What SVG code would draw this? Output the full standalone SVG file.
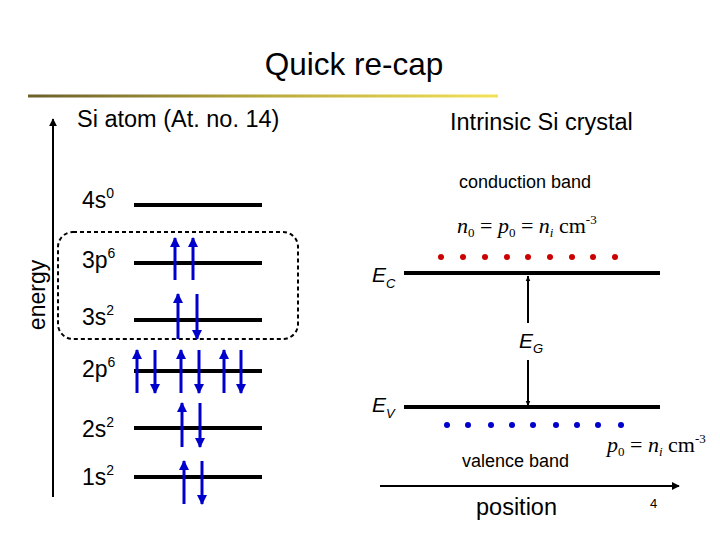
<svg xmlns="http://www.w3.org/2000/svg" width="720" height="540" viewBox="0 0 720 540">
<style>
.sans{font-family:"Liberation Sans",Arial,sans-serif;fill:#000}
.serif{font-family:"Liberation Serif","Times New Roman",serif;fill:#000}
.lvl{stroke:#000;stroke-width:4;fill:none}
.up{stroke:#0000cc;stroke-width:3;marker-end:url(#bh)}
.ax{stroke:#000;stroke-width:2;fill:none}
.thin{stroke:#000;stroke-width:2;fill:none}
.rd{fill:#cc0000}
.bd{fill:#0000cc}
</style>
<defs>
<linearGradient id="gl" x1="0" y1="0" x2="1" y2="0">
<stop offset="0" stop-color="#6b5f2c"/>
<stop offset="0.5" stop-color="#b8a83a"/>
<stop offset="1" stop-color="#f3e259"/>
</linearGradient>
<marker id="bh" viewBox="0 0 10 10" refX="9" refY="5" markerWidth="3.5" markerHeight="3.5" orient="auto" markerUnits="strokeWidth">
<path d="M0,0 L10,5 L0,10 z" fill="#0000cc"/>
</marker>
<marker id="kh" viewBox="0 0 10 10" refX="9" refY="5" markerWidth="4" markerHeight="4" orient="auto" markerUnits="strokeWidth">
<path d="M0,0 L10,5 L0,10 z" fill="#000"/>
</marker>
<marker id="ks" viewBox="0 0 10 10" refX="9" refY="5" markerWidth="3" markerHeight="3" orient="auto" markerUnits="strokeWidth">
<path d="M0,1 L10,5 L0,9 z" fill="#000"/>
</marker>
</defs>

<g id="title">
<text class="sans" x="354" y="75" font-size="31.5" text-anchor="middle">Quick re-cap</text>
<rect x="28" y="94.5" width="470" height="3" fill="url(#gl)"/>
</g>

<g id="atom-header">
<text class="sans" x="77" y="127" font-size="23.5">Si atom (At. no. 14)</text>
</g>

<g id="energy-axis">
<line class="ax" x1="53" y1="497" x2="53" y2="119" marker-end="url(#kh)"/>
<text class="sans" transform="translate(45,295) rotate(-90)" font-size="23" text-anchor="middle">energy</text>
</g>

<g id="valence-box">
<rect x="58" y="232" width="240" height="107" rx="15" fill="none" stroke="#000" stroke-width="2" stroke-dasharray="4 3"/>
</g>

<g id="level-4s">
<text class="sans" x="82" y="208" font-size="23">4s<tspan font-size="14" dy="-10">0</tspan></text>
<line class="lvl" x1="134" y1="205" x2="262" y2="205"/>
</g>
<g id="level-3p">
<text class="sans" x="82" y="268" font-size="23">3p<tspan font-size="14" dy="-10">6</tspan></text>
<line class="lvl" x1="134" y1="263" x2="262" y2="263"/>
</g>
<g id="level-3s">
<text class="sans" x="82" y="325" font-size="23">3s<tspan font-size="14" dy="-10">2</tspan></text>
<line class="lvl" x1="134" y1="320" x2="262" y2="320"/>
</g>
<g id="level-2p">
<text class="sans" x="82" y="377" font-size="23">2p<tspan font-size="14" dy="-10">6</tspan></text>
<line class="lvl" x1="134" y1="371" x2="262" y2="371"/>
</g>
<g id="level-2s">
<text class="sans" x="82" y="437" font-size="23">2s<tspan font-size="14" dy="-10">2</tspan></text>
<line class="lvl" x1="134" y1="428" x2="262" y2="428"/>
</g>
<g id="level-1s">
<text class="sans" x="82" y="485" font-size="23">1s<tspan font-size="14" dy="-10">2</tspan></text>
<line class="lvl" x1="134" y1="477" x2="262" y2="477"/>
</g>

<g id="electrons">
<line class="up" x1="175" y1="280" x2="175" y2="238"/>
<line class="up" x1="193" y1="280" x2="193" y2="238"/>
<line class="up" x1="178" y1="339" x2="178" y2="294"/>
<line class="up" x1="197" y1="294" x2="197" y2="339"/>
<line class="up" x1="137" y1="393" x2="137" y2="350"/>
<line class="up" x1="155" y1="350" x2="155" y2="393"/>
<line class="up" x1="181" y1="393" x2="181" y2="350"/>
<line class="up" x1="199" y1="350" x2="199" y2="393"/>
<line class="up" x1="224" y1="393" x2="224" y2="350"/>
<line class="up" x1="241" y1="350" x2="241" y2="393"/>
<line class="up" x1="182" y1="447" x2="182" y2="403"/>
<line class="up" x1="200" y1="403" x2="200" y2="447"/>
<line class="up" x1="184" y1="504" x2="184" y2="461"/>
<line class="up" x1="202" y1="461" x2="202" y2="504"/>
</g>

<g id="crystal-header">
<text class="sans" x="450" y="130" font-size="23.5">Intrinsic Si crystal</text>
</g>

<g id="conduction-band">
<text class="sans" x="459" y="188" font-size="18">conduction band</text>
<text class="serif" x="457" y="233" font-size="22"><tspan font-style="italic">n</tspan><tspan font-size="13" dy="4">0</tspan><tspan dy="-4"> = </tspan><tspan font-style="italic">p</tspan><tspan font-size="13" dy="4">0</tspan><tspan dy="-4"> = </tspan><tspan font-style="italic">n</tspan><tspan font-size="13" dy="4" font-style="italic">i</tspan><tspan dy="-4"> cm</tspan><tspan font-size="13" dy="-9">-3</tspan></text>
<circle class="rd" cx="441" cy="257" r="3"/>
<circle class="rd" cx="463" cy="257" r="3"/>
<circle class="rd" cx="485" cy="257" r="3"/>
<circle class="rd" cx="507" cy="257" r="3"/>
<circle class="rd" cx="528" cy="257" r="3"/>
<circle class="rd" cx="550" cy="257" r="3"/>
<circle class="rd" cx="572" cy="257" r="3"/>
<circle class="rd" cx="593" cy="257" r="3"/>
<circle class="rd" cx="615" cy="257" r="3"/>
<line class="lvl" x1="404" y1="273" x2="660" y2="273"/>
<text class="sans" x="372" y="282" font-size="21" font-style="italic">E<tspan font-size="13" dy="6">C</tspan></text>
</g>

<g id="valence-band">
<line class="lvl" x1="404" y1="407" x2="660" y2="407"/>
<text class="sans" x="372" y="412" font-size="21" font-style="italic">E<tspan font-size="13" dy="6">V</tspan></text>
<circle class="bd" cx="447" cy="425" r="3"/>
<circle class="bd" cx="468" cy="425" r="3"/>
<circle class="bd" cx="491" cy="425" r="3"/>
<circle class="bd" cx="512" cy="425" r="3"/>
<circle class="bd" cx="533" cy="425" r="3"/>
<circle class="bd" cx="556" cy="425" r="3"/>
<circle class="bd" cx="577" cy="425" r="3"/>
<circle class="bd" cx="598" cy="425" r="3"/>
<circle class="bd" cx="621" cy="425" r="3"/>
<text class="serif" x="607" y="452" font-size="22"><tspan font-style="italic">p</tspan><tspan font-size="13" dy="4">0</tspan><tspan dy="-4"> = </tspan><tspan font-style="italic">n</tspan><tspan font-size="13" dy="4" font-style="italic">i</tspan><tspan dy="-4"> cm</tspan><tspan font-size="13" dy="-9">-3</tspan></text>
<text class="sans" x="462" y="467" font-size="18">valence band</text>
</g>

<g id="connectors">
<line class="thin" x1="528" y1="323" x2="528" y2="276" marker-end="url(#ks)"/>
<line class="thin" x1="528" y1="360" x2="528" y2="406" marker-end="url(#ks)"/>
<line class="ax" x1="380" y1="486" x2="679" y2="486" marker-end="url(#kh)"/>
</g>

<g id="gap-label">
<text class="sans" x="519" y="348" font-size="21" font-style="italic">E<tspan font-size="13" dy="5">G</tspan></text>
</g>

<g id="position-label">
<text class="sans" x="476" y="515" font-size="23.5">position</text>
</g>

<g id="page-number">
<text class="sans" x="650" y="508" font-size="13">4</text>
</g>
</svg>
